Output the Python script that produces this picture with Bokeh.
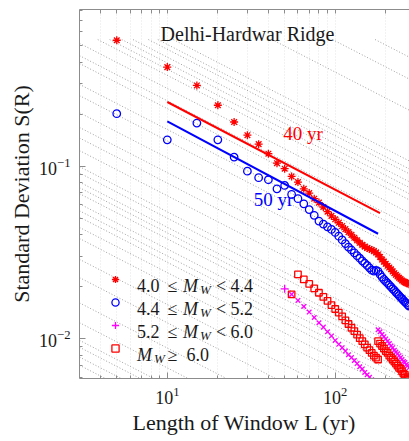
import math
from bokeh.plotting import figure
from bokeh.models import LogAxis, Label, Legend, LegendItem, Range1d, FixedTicker
from bokeh.embed import file_html
from bokeh.resources import INLINE

# ---------------- data ----------------
L_lo = [5, 10, 15, 20, 25, 30, 35, 40, 45, 50, 55, 60, 65, 70, 75, 80, 85, 90, 95, 100,
        105, 110, 115, 120, 125, 130, 135, 140, 145, 150, 155, 160, 165, 170, 175, 180,
        185, 190, 195, 200, 205, 210, 215, 220, 225, 230, 235, 240, 245, 250, 255, 260,
        265, 270, 275]
S_lo = [0.535, 0.374, 0.293, 0.225, 0.180, 0.151, 0.134, 0.118, 0.104, 0.0966, 0.0871,
        0.0808, 0.0739, 0.0698, 0.0648, 0.0615, 0.0580, 0.0545, 0.0515, 0.0492, 0.0470,
        0.0450, 0.0432, 0.0415, 0.0400, 0.0385, 0.0372, 0.0360, 0.0350, 0.0342, 0.0336,
        0.0331, 0.0327, 0.0322, 0.0316, 0.0308, 0.0298, 0.0288, 0.0280, 0.0272, 0.0265,
        0.0259, 0.0253, 0.0246, 0.0240, 0.0235, 0.0230, 0.0226, 0.0222, 0.0218, 0.0215,
        0.0213, 0.0211, 0.0209, 0.0207]

L_mid = [5, 10, 15, 20, 25, 30, 35, 40, 45, 50, 55, 60, 65, 70, 75, 80, 85, 90, 95, 100,
         105, 110, 115, 120, 125, 130, 135, 140, 145, 150, 155, 160, 165, 170, 175, 180,
         185, 190, 195, 200, 205, 210, 215, 220, 225, 230, 235, 240, 245, 250, 255, 260,
         265, 270, 275]
S_mid = [0.201, 0.142, 0.1775, 0.142, 0.1128, 0.0935, 0.0857, 0.0834, 0.0739, 0.0773,
         0.0686, 0.0648, 0.0605, 0.0560, 0.0519, 0.0481, 0.0462, 0.0445, 0.0430, 0.0413,
         0.0393, 0.0374, 0.0356, 0.0340, 0.0327, 0.0315, 0.0303, 0.0293, 0.0283, 0.0274,
         0.0266, 0.0258, 0.0250, 0.0247, 0.0249, 0.0246, 0.0236, 0.0228, 0.0221, 0.0215,
         0.0210, 0.0205, 0.0200, 0.0195, 0.0191, 0.0186, 0.0182, 0.0178, 0.0174, 0.0171,
         0.0167, 0.0164, 0.0161, 0.0158, 0.0155]

L_hi = [50, 55, 60, 65, 70, 75, 80, 85, 90, 95, 100, 105, 110, 115, 120, 125, 130, 135,
        140, 145, 150, 155, 160, 165, 170,
        180, 185, 190, 195, 200, 205, 210, 215, 220, 225, 230, 235, 240, 245, 250, 255,
        260, 265, 270, 275]
S_hi = [0.0195, 0.0181, 0.0167, 0.0154, 0.0143, 0.0133, 0.0124, 0.0117, 0.0110, 0.0104,
        0.0098, 0.0093, 0.0089, 0.0085, 0.0081, 0.0078, 0.0075, 0.0072, 0.0069, 0.0067,
        0.0064, 0.0062, 0.0060, 0.0058, 0.0057,
        0.0113, 0.0110, 0.0106, 0.0103, 0.0100, 0.0097, 0.0094, 0.0091, 0.0089, 0.0086,
        0.0084, 0.0082, 0.0080, 0.0078, 0.0076, 0.0074, 0.0073, 0.0071, 0.0070, 0.0068]

L_big = [55, 60, 65, 70, 75, 80, 85, 90, 95, 100, 105, 110, 115, 120, 125, 130, 135, 140,
         145, 150, 155, 160, 165, 170, 175, 180,
         180, 185, 190, 195, 200, 205, 210, 215, 220, 225, 230, 235, 240, 245, 250, 255,
         260, 265, 270, 275]
S_big = [0.0181, 0.0236, 0.0221, 0.0208, 0.0196, 0.0185, 0.0175, 0.0166, 0.0157, 0.0149,
         0.0142, 0.0135, 0.0128, 0.0122, 0.0116, 0.0111, 0.0106, 0.0101, 0.0097, 0.0093,
         0.0089, 0.0086, 0.0083, 0.0080, 0.0078, 0.0076,
         0.0097, 0.0094, 0.0091, 0.0088, 0.0085, 0.0083, 0.0080, 0.0078, 0.0076, 0.0074,
         0.0072, 0.0070, 0.0068, 0.0067, 0.0065, 0.0063, 0.0062, 0.0060, 0.0059, 0.0058]

FIT40_L = [10, 185]
FIT40_S = [0.235, 0.0534]
FIT50_L = [10, 180]
FIT50_S = [0.1815, 0.0406]

# background reference lines S = c / sqrt(L)
GUIDE_C = [0.0122, 0.0136, 0.0155, 0.017, 0.0215, 0.028, 0.0392, 0.05, 0.066, 0.0765,
           0.0878, 0.0955, 0.1048, 0.12, 0.13, 0.14, 0.158, 0.172, 0.213, 0.252, 0.29,
           0.353, 0.443, 0.515, 0.68, 0.755, 0.89, 1.06, 1.15, 1.25, 1.35, 1.5, 1.6, 1.78,
           3.5, 5.3, 7.1]
GUIDE_CAP = 0.54

X_MAJOR = [10, 100]
X_MINOR = [4, 5, 6, 7, 8, 9, 20, 30, 40, 50, 60, 70, 80, 90, 200]
Y_MAJOR = [0.01, 0.1]
Y_MINOR = [0.006, 0.007, 0.008, 0.009, 0.02, 0.03, 0.04, 0.05, 0.06, 0.07, 0.08, 0.09,
           0.2, 0.3, 0.4, 0.5, 0.6, 0.7, 0.8]

TITLE = "Delhi-Hardwar Ridge"
XLABEL = "Length of Window L (yr)"
YLABEL = "Standard Deviation S(R)"

# ---------------- layout ----------------
W, H = 409, 441
FL, FR, FT, FB = 79, 409, 9, 378
X0, X1 = 3.0, 277.0
Y0, Y1 = 0.0059, 0.806

FONT = "Liberation Serif"
TXT = "#1a1a1a"
AX = "#8c8c8c"
RED, BLUE, MAG = "#ff0000", "#0000ff", "#ff00ff"


def dx(px):
    a, b = math.log10(X0), math.log10(X1)
    return 10 ** (a + (px - FL) / (FR - FL) * (b - a))


def dy(py):
    a, b = math.log10(Y0), math.log10(Y1)
    return 10 ** (a + (FB - py) / (FB - FT) * (b - a))


p = figure(width=W, height=H, x_axis_type="log", y_axis_type="log",
           x_range=Range1d(X0, X1), y_range=Range1d(Y0, Y1),
           output_backend="svg", toolbar_location=None,
           min_border_left=FL, min_border_right=W - FR,
           min_border_top=FT, min_border_bottom=H - FB)
p.title.visible = False
p.outline_line_color = None
p.background_fill_color = "white"
p.border_fill_color = "white"


def style_axis(ax):
    ax.axis_line_color = AX
    ax.major_tick_line_color = AX
    ax.minor_tick_line_color = AX
    ax.major_tick_in = 6
    ax.major_tick_out = 0
    ax.minor_tick_in = 3
    ax.minor_tick_out = 0
    ax.major_label_text_font = FONT
    ax.major_label_text_color = TXT
    ax.major_label_text_font_size = "18px"
    ax.axis_label_text_font = FONT
    ax.axis_label_text_color = TXT
    ax.axis_label_text_font_style = "normal"


xa = p.xaxis[0]
ya = p.yaxis[0]
style_axis(xa)
style_axis(ya)
xa.ticker = FixedTicker(ticks=X_MAJOR, minor_ticks=X_MINOR)
ya.ticker = FixedTicker(ticks=Y_MAJOR, minor_ticks=Y_MINOR)
xa.major_label_standoff = 8
ya.major_label_standoff = 9
xa.axis_label = XLABEL
xa.axis_label_text_font_size = "22px"
xa.axis_label_standoff = 3
ya.axis_label = YLABEL
ya.axis_label_text_font_size = "22px"
ya.axis_label_standoff = 2

# top border with inward ticks only (no labels)
top = LogAxis(ticker=FixedTicker(ticks=[], minor_ticks=X_MINOR + X_MAJOR))
style_axis(top)
top.minor_tick_in = 4
top.major_label_standoff = 0
p.add_layout(top, "above")

p.ygrid.grid_line_color = None
p.xgrid.grid_line_color = "#e4e4e4"
p.xgrid.grid_line_dash = "1 2"
p.xgrid.minor_grid_line_color = "#e4e4e4"
p.xgrid.minor_grid_line_dash = "1 2"

# reference guide lines
gx, gy = [], []
for c in GUIDE_C:
    l0 = max(X0, (c / GUIDE_CAP) ** 2)
    l1 = 300.0
    gx.append([l0, l1])
    gy.append([c / math.sqrt(l0), c / math.sqrt(l1)])
p.multi_line(gx, gy, line_color="#a0a0a0", line_dash="1 2", line_width=1)

r_lo = p.scatter(L_lo, S_lo, marker="asterisk", size=8, line_color=RED, line_width=1.3)
r_mid = p.scatter(L_mid, S_mid, marker="circle", size=7.5, fill_color=None,
                  line_color=BLUE, line_width=1.3)
r_hi0 = p.scatter(L_hi[:1], S_hi[:1], marker="cross", size=8, line_color=MAG,
                  line_width=1.3)
r_hi = p.scatter(L_hi[1:], S_hi[1:], marker="x", size=6.5, line_color=MAG,
                 line_width=1.3)
r_big = p.scatter(L_big, S_big, marker="square", size=6.5, fill_color=None,
                  line_color=RED, line_width=1.3)

p.line(FIT40_L, FIT40_S, line_color=RED, line_width=2)
p.line(FIT50_L, FIT50_S, line_color=BLUE, line_width=2)

NB = "\u00a0"
legend = Legend(items=[LegendItem(label=NB, renderers=[r_lo]),
                       LegendItem(label=NB, renderers=[r_mid]),
                       LegendItem(label=NB, renderers=[r_hi0]),
                       LegendItem(label=NB, renderers=[r_big])],
                location=(27, 19), orientation="vertical",
                glyph_width=18, glyph_height=22, label_height=22, label_width=4,
                label_standoff=4, spacing=1, padding=0, margin=0,
                border_line_color=None, background_fill_alpha=0,
                label_text_font=FONT, label_text_font_size="18px",
                label_text_color=TXT)
p.add_layout(legend)


def lab(txt, px, py, size, color=TXT, style="normal", align="left", yo=0):
    p.add_layout(Label(x=dx(px), y=dy(py), text=txt, text_font=FONT,
                       text_font_size=f"{size}px", text_color=color,
                       text_font_style=style, text_align=align,
                       text_baseline="alphabetic", y_offset=yo))


# title inside plot
lab(TITLE, 247, 33.3, 20, align="center")
# fit annotations
lab("40 yr", 282.7, 132.7, 19, color=RED)
lab("50 yr", 253.3, 199.3, 19, color=BLUE)

# legend texts
rows = [("4.0", "4.4", 285.3), ("4.4", "5.2", 308.3), ("5.2", "6.0", 331.3)]
for lo, hi, base in rows:
    lab(lo, 136.5, base, 18)
    lab("\u2264", 167, base, 18)
    lab("M", 182.5, base, 18, style="italic")
    lab("W", 199.5, base, 13, style="italic", yo=-4)
    lab("<", 215.5, base, 18)
    lab(hi, 230, base, 18)
lab("M", 136.5, 354.3, 18, style="italic")
lab("W", 153.5, 354.3, 13, style="italic", yo=-4)
lab("\u2265", 167, 354.3, 18)
lab("6.0", 186, 354.3, 18)

open("out.html", "w").write(file_html(p, INLINE))
